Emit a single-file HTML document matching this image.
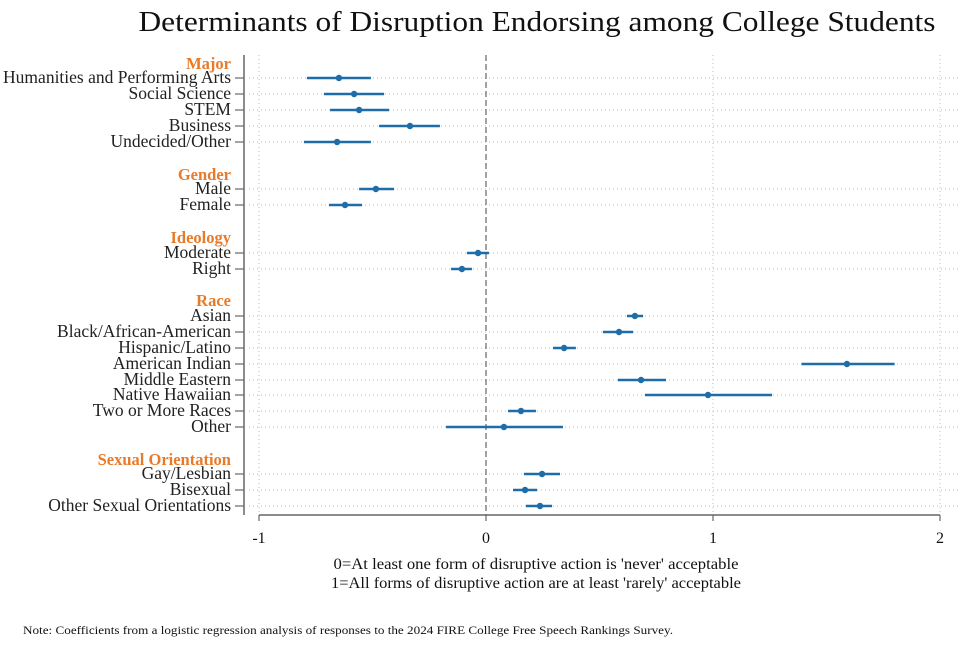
<!DOCTYPE html>
<html><head><meta charset="utf-8"><style>
html,body{margin:0;padding:0;background:#fff;}
svg{display:block;font-family:"Liberation Serif",serif;}
</style></head><body>
<svg id="chart" width="975" height="647" viewBox="0 0 975 647" xmlns="http://www.w3.org/2000/svg">
<text x="537" y="31" text-anchor="middle" font-size="28" textLength="797" lengthAdjust="spacingAndGlyphs" fill="#111">Determinants of Disruption Endorsing among College Students</text>
<g id="grid"></g>
<g id="axes"></g>
<g id="marks"></g>
<text x="536" y="569" text-anchor="middle" font-size="16" textLength="405" lengthAdjust="spacingAndGlyphs" fill="#111">0=At least one form of disruptive action is 'never' acceptable</text>
<text x="536" y="588" text-anchor="middle" font-size="16" textLength="410" lengthAdjust="spacingAndGlyphs" fill="#111">1=All forms of disruptive action are at least 'rarely' acceptable</text>
<text x="23" y="634" font-size="11.5" textLength="650" lengthAdjust="spacingAndGlyphs" fill="#111">Note: Coefficients from a logistic regression analysis of responses to the 2024 FIRE College Free Speech Rankings Survey.</text>
</svg>
<script>
const groups = ["Major","Gender","Ideology","Race","Sexual Orientation"];
const groupRows = [64,175,238,301,460];
const categories = ["Humanities and Performing Arts","Social Science","STEM","Business","Undecided/Other","Male","Female","Moderate","Right","Asian","Black/African-American","Hispanic/Latino","American Indian","Middle Eastern","Native Hawaiian","Two or More Races","Other","Gay/Lesbian","Bisexual","Other Sexual Orientations"];
const rowY = [78,94,110,126,142,189,205,253,269,316,332,348,364,380,395,411,427,474,490,506];
const estimates = [-0.648,-0.581,-0.559,-0.335,-0.656,-0.485,-0.621,-0.035,-0.106,0.656,0.586,0.344,1.59,0.683,0.978,0.154,0.079,0.247,0.172,0.238];
const lower = [-0.789,-0.714,-0.687,-0.471,-0.802,-0.559,-0.692,-0.084,-0.154,0.621,0.515,0.295,1.39,0.581,0.70,0.097,-0.176,0.167,0.119,0.176];
const upper = [-0.507,-0.449,-0.427,-0.203,-0.507,-0.405,-0.546,0.013,-0.062,0.692,0.648,0.396,1.80,0.793,1.26,0.220,0.339,0.326,0.225,0.291];
const xTicks = [-1,0,1,2];
const xTickLabels = ["-1","0","1","2"];

const NS="http://www.w3.org/2000/svg";
const x = v => 486 + v*227;
const yTop=55, yBot=515, axisX=244;
function mk(tag, attrs, parent){const e=document.createElementNS(NS,tag);for(const k in attrs)e.setAttribute(k,attrs[k]);parent.appendChild(e);return e;}
const grid=document.getElementById('grid'), axes=document.getElementById('axes'), marks=document.getElementById('marks');

rowY.forEach((y,i)=>{
  const l=mk('line',{x1:249,x2:958,y1:y,y2:y,stroke:'#bbb','stroke-width':1,'stroke-dasharray':'1 3'},grid);
  
  
});
xTicks.forEach(t=>{
  const l=mk('line',{x1:x(t),x2:x(t),y1:yTop,y2:yBot,stroke:t===0?'#666':'#bbb','stroke-width':t===0?1.2:1,'stroke-dasharray':t===0?'6 3':'1 3'},grid);
  
  
});
const ya=mk('line',{x1:axisX,x2:axisX,y1:yTop,y2:yBot,stroke:'#666','stroke-width':1.5},axes);


const xa=mk('line',{x1:x(-1),x2:x(2),y1:yBot,y2:yBot,stroke:'#666','stroke-width':1.5},axes);


xTicks.forEach((t,i)=>{
  const tk=mk('line',{x1:x(t),x2:x(t),y1:yBot,y2:yBot+6,stroke:'#666','stroke-width':1.2},axes);
  
  
  const tl=mk('text',{x:x(t),y:yBot+28,'text-anchor':'middle','font-size':16,fill:'#111'},axes);
  tl.textContent=xTickLabels[i];
  
  
});
groups.forEach((g,i)=>{
  const t=mk('text',{x:231,y:groupRows[i]+5,'text-anchor':'end','font-size':16.5,'font-weight':'bold',fill:'#E87B2A'},axes);
  t.textContent=g;
  
  
});
categories.forEach((c,i)=>{
  const tk=mk('line',{x1:axisX-9,x2:axisX,y1:rowY[i],y2:rowY[i],stroke:'#666','stroke-width':1.2},axes);
  
  
  const t=mk('text',{x:231,y:rowY[i]+5,'text-anchor':'end','font-size':17.5,fill:'#222'},axes);
  t.textContent=c;
  
  
});
categories.forEach((c,i)=>{
  const ci=mk('line',{x1:x(lower[i]),x2:x(upper[i]),y1:rowY[i],y2:rowY[i],stroke:'#1F6DA8','stroke-width':2.6},marks);
  
  
  const p=mk('circle',{cx:x(estimates[i]),cy:rowY[i],r:3.2,fill:'#1F6DA8'},marks);
  
  
});
</script>
</body></html>
